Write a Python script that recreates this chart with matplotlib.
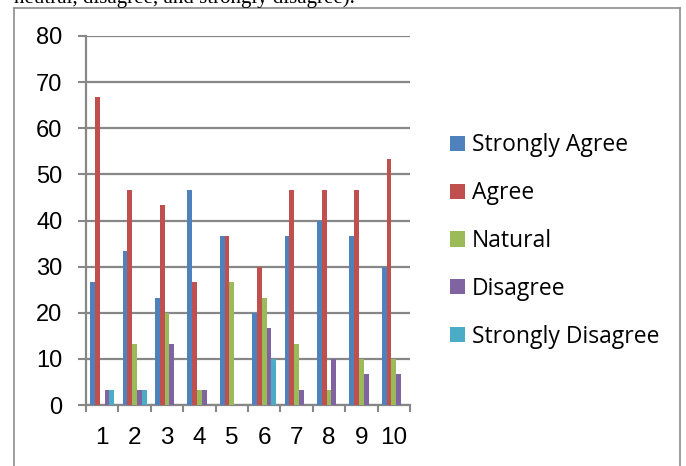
import numpy as np
import matplotlib.pyplot as plt
from matplotlib.lines import Line2D

# Survey responses per question (percent)
questions = ["1", "2", "3", "4", "5", "6", "7", "8", "9", "10"]
strongly_agree = [26.7, 33.3, 23.3, 46.7, 36.7, 20.0, 36.7, 40.0, 36.7, 30.0]
agree = [66.7, 46.7, 43.3, 26.7, 36.7, 30.0, 46.7, 46.7, 46.7, 53.3]
natural = [0, 13.3, 20.0, 3.3, 26.7, 23.3, 13.3, 3.3, 10.0, 10.0]
disagree = [3.3, 3.3, 13.3, 3.3, 0, 16.7, 3.3, 10.0, 6.7, 6.7]
strongly_disagree = [3.3, 3.3, 0, 0, 0, 10.0, 0, 0, 0, 0]

series = [strongly_agree, agree, natural, disagree, strongly_disagree]
names = ["Strongly Agree", "Agree", "Natural", "Disagree", "Strongly Disagree"]
colours = ["#4F81BD", "#C0504D", "#9BBB59", "#8064A2", "#4BACC6"]

fig = plt.figure(figsize=(6.86, 4.66), dpi=100)
ax = fig.add_axes([86 / 686, 1 - 405 / 466, 324 / 686, 369 / 466])

x = np.arange(1, len(questions) + 1)
w = 0.149
for i, (vals, name, c) in enumerate(zip(series, names, colours)):
    ax.bar(x + (i - 2) * w, vals, w, color=c, label=name, zorder=3)

grey = "#878787"
ax.set_ylim(0, 80)
ax.set_xlim(0.5, 10.5)
ax.set_yticks(range(0, 81, 10))
ax.yaxis.grid(True, color=grey, lw=1.6, zorder=0)
ax.set_xticks(np.arange(0.5, 11, 1))
ax.set_xticklabels([])
ax.set_xticks(x, minor=True)
ax.set_xticklabels(questions, minor=True, fontsize=17.5, family="Liberation Sans")
ax.tick_params(axis="x", which="major", length=5, width=1.5, color=grey, direction="out")
ax.tick_params(axis="x", which="minor", length=0, pad=16)
ax.tick_params(axis="y", length=6, width=1.5, color=grey, pad=11, labelsize=17)
for lab in ax.get_yticklabels():
    lab.set_family("Liberation Sans")
for s in ["top", "right"]:
    ax.spines[s].set_visible(False)
for s in ["left", "bottom"]:
    ax.spines[s].set_color(grey)
    ax.spines[s].set_linewidth(1.6)

leg = ax.legend(loc="upper left", bbox_to_anchor=(439 / 686, 1 - 122 / 466),
                bbox_transform=fig.transFigure, frameon=False,
                prop={"family": "Open Sans", "size": 16.5},
                handlelength=0.64, handleheight=0.64, handletextpad=0.3,
                labelspacing=1.04, borderpad=0)

# chart frame
for xs, ys in [([14, 14], [0, 458]), ([14, 680], [458, 458]), ([680, 680], [0, 458])]:
    fig.add_artist(Line2D(np.array(xs) / 686, np.array(ys) / 466, color="#8c8c8c", lw=1.2))

fig.text(14 / 686, 1 - 3 / 466, "neutral, disagree, and strongly disagree).",
         family="Liberation Serif", fontsize=15, va="baseline")

plt.savefig("out.png")
